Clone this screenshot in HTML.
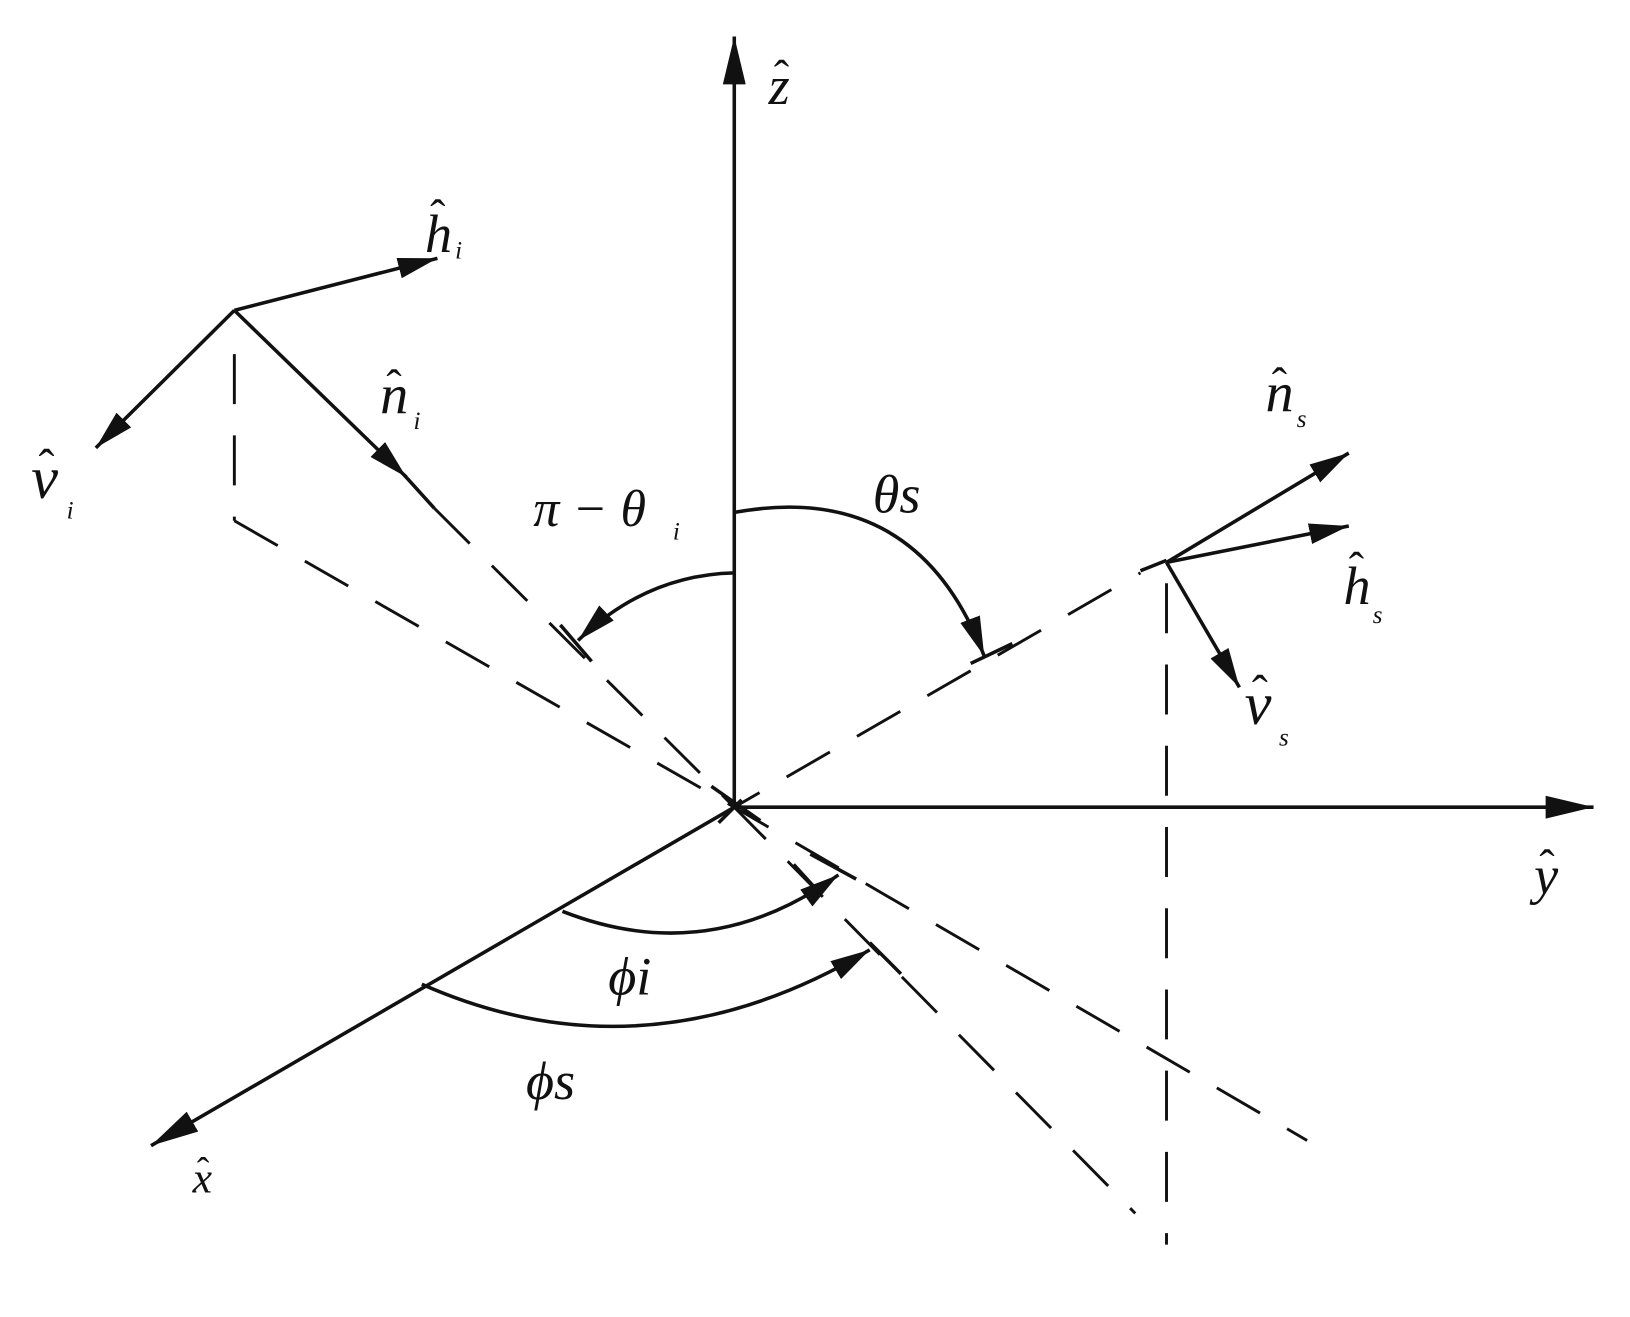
<!DOCTYPE html>
<html><head><meta charset="utf-8"><style>
html,body{margin:0;padding:0;background:#fff;}
svg{display:block;}
text{font-family:"Liberation Serif",serif;font-style:italic;fill:#111;}
.h{font-style:normal;}
</style></head><body>
<svg width="1630" height="1317" viewBox="0 0 1565 1264.5" xmlns="http://www.w3.org/2000/svg">
<defs>
<marker id="b" viewBox="0 0 46 22" refX="46" refY="11" markerWidth="46" markerHeight="22" markerUnits="userSpaceOnUse" orient="auto">
<path d="M0,0 L46,11 L0,22 Z" fill="#111"/>
</marker>
<marker id="c" viewBox="0 0 38 20" refX="38" refY="10" markerWidth="38" markerHeight="20" markerUnits="userSpaceOnUse" orient="auto">
<path d="M0,0 L38,10 L0,20 Z" fill="#111"/>
</marker>
</defs>
<g stroke="#111" stroke-width="3.4" fill="none">
<line x1="705" y1="775" x2="705" y2="35" marker-end="url(#b)"/>
<line x1="705" y1="775" x2="1530" y2="775" marker-end="url(#b)"/>
<line x1="705" y1="775" x2="145" y2="1100" marker-end="url(#b)"/>
<line x1="683" y1="755" x2="730" y2="788"/>
<line x1="690" y1="790" x2="712" y2="768"/>
<line x1="225" y1="298" x2="420" y2="248" marker-end="url(#c)"/>
<line x1="225" y1="298" x2="92" y2="430" marker-end="url(#c)"/>
<line x1="225" y1="298" x2="390" y2="458" marker-end="url(#c)"/>
<line x1="388" y1="456" x2="417" y2="488"/>
<line x1="1120" y1="540" x2="1295" y2="435" marker-end="url(#c)"/>
<line x1="1120" y1="540" x2="1295" y2="505" marker-end="url(#c)"/>
<line x1="1120" y1="540" x2="1190" y2="660" marker-end="url(#c)"/>
<line x1="1095" y1="548" x2="1120" y2="538"/>
</g>
<g stroke="#111" stroke-width="2.8" fill="none" stroke-dasharray="48,30">
<line x1="225" y1="340" x2="225" y2="500"/>
<line x1="225" y1="500" x2="705" y2="775"/>
<line x1="417" y1="488" x2="705" y2="775"/>
<line x1="705" y1="775" x2="1095" y2="550" stroke-dashoffset="20"/>
<line x1="1120" y1="560" x2="1120" y2="1195"/>
<line x1="705" y1="775" x2="1255" y2="1095" stroke-dashoffset="10"/>
<line x1="705" y1="775" x2="1090" y2="1165" stroke-dashoffset="5"/>
</g>
<g stroke="#111" stroke-width="3.4" fill="none">
<path d="M705,550 Q620,552 555,615" marker-end="url(#c)"/>
<line x1="538" y1="600" x2="568" y2="635"/>
<path d="M705,492 Q880,460 945,630" marker-end="url(#c)"/>
<line x1="932" y1="637" x2="972" y2="618"/>
<path d="M540,875 Q680,930 805,840" marker-end="url(#c)"/>
<line x1="778" y1="820" x2="822" y2="844"/>
<line x1="762" y1="830" x2="782" y2="852"/>
<path d="M405,945 Q620,1040 835,912" marker-end="url(#c)"/>
<line x1="835" y1="905" x2="865" y2="935"/>
</g>
<text x="738" y="100" font-size="52">z</text><text class="h" x="743" y="88" font-size="44">ˆ</text>
<text x="1473" y="858" font-size="52">y</text><text class="h" x="1478" y="846" font-size="44">ˆ</text>
<text x="185" y="1145" font-size="42">x</text><text class="h" x="189" y="1136" font-size="36">ˆ</text>
<text x="408" y="242" font-size="52">h</text><text class="h" x="413" y="222" font-size="44">ˆ</text><text x="437" y="248" font-size="24">i</text>
<text x="30" y="478" font-size="58">v</text><text class="h" x="37" y="463" font-size="46">ˆ</text><text x="64" y="498" font-size="24">i</text>
<text x="365" y="397" font-size="54">n</text><text class="h" x="371" y="385" font-size="44">ˆ</text><text x="397" y="412" font-size="24">i</text>
<text x="1215" y="395" font-size="54">n</text><text class="h" x="1221" y="383" font-size="44">ˆ</text><text x="1245" y="410" font-size="24">s</text>
<text x="1290" y="580" font-size="52">h</text><text class="h" x="1295" y="560" font-size="44">ˆ</text><text x="1318" y="598" font-size="24">s</text>
<text x="1195" y="695" font-size="58">v</text><text class="h" x="1202" y="680" font-size="46">ˆ</text><text x="1228" y="716" font-size="24">s</text>
<text x="512" y="505" font-size="50">π − θ</text><text x="646" y="518" font-size="24">i</text>
<text x="838" y="492" font-size="52">θs</text>
<text x="584" y="955" font-size="52">ϕi</text>
<text x="505" y="1055" font-size="52">ϕs</text>
</svg>
</body></html>
